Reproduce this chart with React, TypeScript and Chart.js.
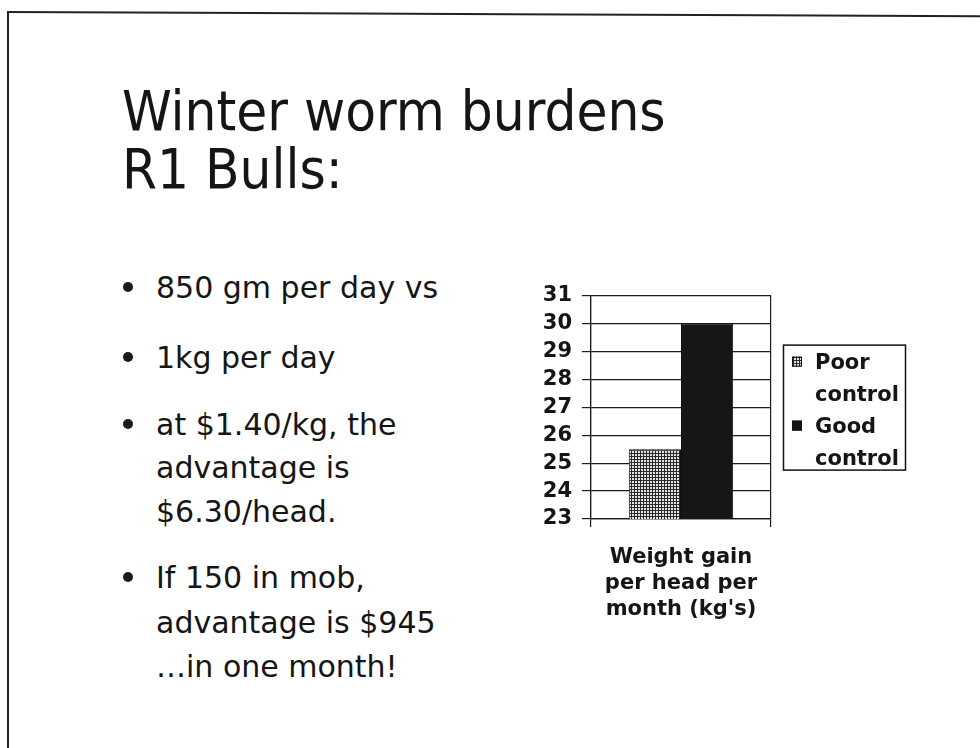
import React, { useEffect, useRef } from "react";
import { Chart, registerables } from "chart.js";

Chart.register(...registerables);

// ---- chart data ----
const categories: string[][] = [["Weight gain", "per head per", "month (kg's)"]];
const seriesNames: string[] = ["Poor control", "Good control"];
const poorControl: number[] = [25.5];
const goodControl: number[] = [30];
const yTickValues: number[] = [23, 24, 25, 26, 27, 28, 29, 30, 31];

// ---- slide text ----
const titleLines: string[] = ["Winter worm burdens", "R1 Bulls:"];
const bulletParagraphs: string[][] = [
  ["850 gm per day vs"],
  ["1kg per day"],
  ["at $1.40/kg, the", "advantage is", "$6.30/head."],
  ["If 150 in mob,", "advantage is $945", "…in one month!"],
];

// layout (page pixels)
const titleBaselines = [130, 188];
const bulletBaselines = [[298], [368], [435, 478, 522], [588, 633, 677]];
const TEXT_COLOR = "#151515";
const FONT = "'DejaVu Sans', sans-serif";

function makePattern(): CanvasPattern | string {
  const c = document.createElement("canvas");
  c.width = 3;
  c.height = 3;
  const g = c.getContext("2d");
  if (!g) return "#888";
  g.fillStyle = "#e4e4e4";
  g.fillRect(0, 0, 3, 3);
  g.fillStyle = "#2a2a2a";
  g.fillRect(0, 0, 3, 1);
  g.fillRect(0, 0, 1, 3);
  const p = g.createPattern(c, "repeat");
  return p || "#888";
}

const legendBoxPlugin = {
  id: "legendBox",
  afterDraw(chart: any) {
    const ctx = chart.ctx as CanvasRenderingContext2D;
    const area = chart.chartArea;
    const left = area.right + 12;
    const top = area.top + 49;
    const w = 122;
    const h = 125;
    ctx.save();
    ctx.fillStyle = "#fff";
    ctx.fillRect(left, top, w, h);
    ctx.strokeStyle = "#111";
    ctx.lineWidth = 1.5;
    ctx.strokeRect(left + 0.5, top + 0.5, w, h);
    ctx.font = "bold 21px " + FONT;
    ctx.textBaseline = "alphabetic";
    ctx.textAlign = "left";
    let y = top + 24;
    chart.data.datasets.forEach((ds: any) => {
      const words = String(ds.label).split(" ");
      ctx.fillStyle = ds.backgroundColor;
      ctx.fillRect(left + 9, y - 12, 10, 10);
      ctx.strokeStyle = "#111";
      ctx.lineWidth = 1;
      ctx.strokeRect(left + 9.5, y - 11.5, 9, 9);
      ctx.fillStyle = TEXT_COLOR;
      words.forEach((wd, i) => {
        ctx.fillText(wd, left + 32, y + i * 32);
      });
      y += words.length * 32;
    });
    ctx.restore();
  },
};

function BarChart() {
  const ref = useRef<HTMLCanvasElement | null>(null);
  useEffect(() => {
    if (!ref.current) return;
    const pattern = makePattern();
    const chart = new Chart(ref.current, {
      type: "bar",
      data: {
        labels: categories as any,
        datasets: [
          {
            label: seriesNames[0],
            data: poorControl,
            backgroundColor: pattern as any,
            borderColor: "#111",
            borderWidth: 1,
            barPercentage: 1,
            categoryPercentage: 0.58,
          },
          {
            label: seriesNames[1],
            data: goodControl,
            backgroundColor: "#161616",
            borderColor: "#111",
            borderWidth: 1,
            barPercentage: 1,
            categoryPercentage: 0.58,
          },
        ],
      },
      options: {
        animation: false,
        responsive: false,
        devicePixelRatio: 1,
        layout: { padding: { top: 8, right: 149, bottom: 0, left: 0 } },
        plugins: {
          legend: { display: false },
          tooltip: { enabled: false },
          title: { display: false },
        },
        scales: {
          x: {
            grid: {
              offset: true,
              color: "#1a1a1a",
              lineWidth: 1.2,
              tickLength: 8,
              drawOnChartArea: true,
            },
            border: { display: true, color: "#1a1a1a", width: 1.2 },
            ticks: {
              color: TEXT_COLOR,
              padding: 17,
              maxRotation: 0,
              font: { family: FONT, size: 21, weight: "bold", lineHeight: 1.25 },
            },
            afterFit: (s: any) => {
              s.height = 131;
            },
          },
          y: {
            min: 23,
            max: 31,
            afterBuildTicks: (s: any) => {
              s.ticks = yTickValues.map((v) => ({ value: v }));
            },
            grid: { color: "#1a1a1a", lineWidth: 1.2, tickLength: 9 },
            border: { display: true, color: "#1a1a1a", width: 1.2 },
            ticks: {
              color: TEXT_COLOR,
              padding: 10,
              autoSkip: false,
              font: { family: FONT, size: 21, weight: "bold" },
            },
            afterFit: (s: any) => {
              s.width = 71;
            },
          },
        },
      },
      plugins: [legendBoxPlugin],
    });
    return () => chart.destroy();
  }, []);
  return <canvas ref={ref} width={400} height={377} style={{ display: "block", width: 400, height: 377 }} />;
}

export default function App() {
  const titleSize = 56;
  const bulletSize = 30;
  const off = (fs: number) => 0.846 * fs;
  return (
    <div
      style={{
        position: "absolute",
        left: 0,
        top: 0,
        width: 980,
        height: 748,
        background: "#fff",
        overflow: "hidden",
        fontFamily: FONT,
        color: TEXT_COLOR,
      }}
    >
      {/* slide frame */}
      <div style={{ position: "absolute", left: 7, top: 11, width: 2, height: 740, background: "#222" }} />
      <div
        style={{
          position: "absolute",
          left: 7,
          top: 11,
          width: 980,
          height: 2,
          background: "#222",
          transform: "rotate(0.25deg)",
          transformOrigin: "0 0",
        }}
      />
      {/* title */}
      {titleLines.map((t, i) => (
        <div
          key={"t" + i}
          style={{
            position: "absolute",
            left: 122,
            top: titleBaselines[i] - off(titleSize),
            fontSize: titleSize,
            lineHeight: titleSize + "px",
            whiteSpace: "nowrap",
            fontFamily: "'DejaVu Sans Condensed', 'DejaVu Sans', sans-serif",
          }}
        >
          {t}
        </div>
      ))}
      {/* bullets */}
      {bulletParagraphs.map((para, pi) => (
        <React.Fragment key={"p" + pi}>
          <div
            style={{
              position: "absolute",
              left: 123,
              top: bulletBaselines[pi][0] - 16,
              width: 10,
              height: 10,
              borderRadius: 5,
              background: "#1a1a1a",
            }}
          />
          {para.map((line, li) => (
            <div
              key={"l" + li}
              style={{
                position: "absolute",
                left: 156,
                top: bulletBaselines[pi][li] - off(bulletSize),
                fontSize: bulletSize,
                lineHeight: bulletSize + "px",
                whiteSpace: "nowrap",
              }}
            >
              {line}
            </div>
          ))}
        </React.Fragment>
      ))}
      {/* chart */}
      <div style={{ position: "absolute", left: 520, top: 273 }}>
        <BarChart />
      </div>
    </div>
  );
}
